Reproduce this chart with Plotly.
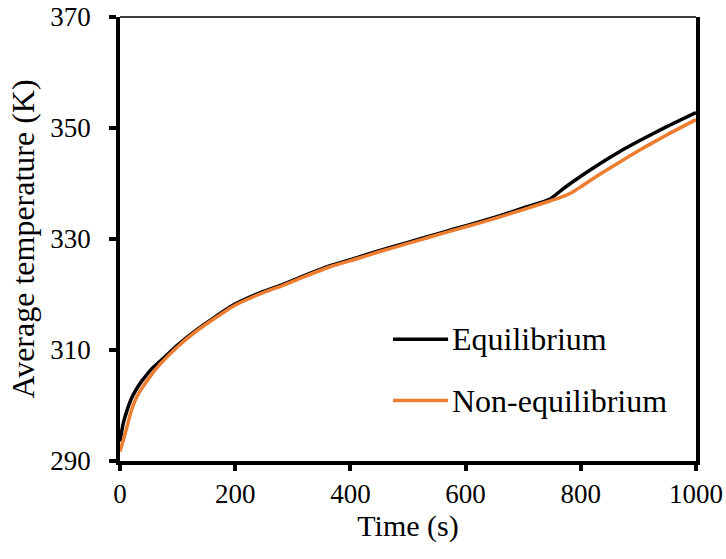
import plotly.graph_objects as go

time_eq = [0, 5, 10, 20, 30, 40, 55, 70, 100, 130, 160, 190, 210, 250, 280, 320, 365, 410,
           450, 500, 540, 580, 625, 660, 700, 745, 770, 800, 835, 865, 900, 950, 1000]
temp_eq = [293.5, 296.5, 298.4, 301.3, 303.2, 304.7, 306.6, 308.0, 310.9, 313.4, 315.6, 317.7,
           318.8, 320.6, 321.7, 323.4, 325.2, 326.6, 327.9, 329.4, 330.6, 331.8, 333.1, 334.2,
           335.6, 337.1, 339.1, 341.3, 343.7, 345.6, 347.6, 350.3, 352.8]

time_neq = [0, 5, 10, 20, 30, 40, 55, 70, 100, 130, 160, 190, 210, 250, 280, 320, 365, 410,
            450, 500, 540, 580, 625, 660, 700, 745, 765, 783, 800, 835, 865, 900, 950, 1000]
temp_neq = [291.7, 293.5, 295.3, 299.2, 301.7, 303.4, 305.6, 307.5, 310.6, 313.2, 315.4, 317.5,
            318.6, 320.4, 321.5, 323.2, 325.0, 326.4, 327.7, 329.2, 330.4, 331.6, 332.9, 334.0,
            335.3, 336.8, 337.5, 338.3, 339.4, 341.8, 343.7, 345.9, 348.8, 351.5]

x_ticks = [0, 200, 400, 600, 800, 1000]
y_ticks = [290, 310, 330, 350, 370]
series_names = ["Equilibrium", "Non-equilibrium"]
series_colors = ["#000000", "#ED7D31"]

FONT = "Liberation Serif"

fig = go.Figure()
fig.add_trace(go.Scatter(x=time_eq, y=temp_eq, mode="lines", name=series_names[0],
                         line=dict(color=series_colors[0], width=3.5, shape="spline", smoothing=0.5),
                         showlegend=False))
fig.add_trace(go.Scatter(x=time_neq, y=temp_neq, mode="lines", name=series_names[1],
                         line=dict(color=series_colors[1], width=3.5, shape="spline", smoothing=0.5),
                         showlegend=False))

# manual legend (line samples + labels)
legend_y = [0.2744, 0.136]
for name, color, ly in zip(series_names, series_colors, legend_y):
    fig.add_shape(type="line", xref="paper", yref="paper", x0=0.474, x1=0.5696, y0=ly, y1=ly,
                  line=dict(color=color, width=3.5))
    fig.add_annotation(xref="paper", yref="paper", x=0.573, y=ly, text=name, showarrow=False,
                       xanchor="left", yanchor="middle",
                       font=dict(family=FONT, size=32, color="#000000"))

# thin top border
fig.add_shape(type="line", xref="paper", yref="paper", x0=0, x1=1, y0=1, y1=1,
              line=dict(color="#000000", width=1.5))

fig.update_layout(
    width=726, height=559,
    margin=dict(l=120, r=30, t=17, b=98),
    paper_bgcolor="white", plot_bgcolor="white",
    font=dict(family=FONT, size=27, color="#000000"),
    xaxis=dict(range=[0, 1000], tickvals=x_ticks, ticks="outside", ticklen=6, tickwidth=3.5,
               tickcolor="#000000", showline=True, linewidth=3.5, linecolor="#000000",
               showgrid=False, zeroline=False, mirror=False, automargin=False,
               tickfont=dict(family=FONT, size=27),
               title=dict(text="Time (s)", font=dict(family=FONT, size=30), standoff=5)),
    yaxis=dict(range=[290, 370], tickvals=y_ticks, ticks="outside", ticklen=7, tickwidth=3.5,
               tickcolor="#000000", showline=True, linewidth=3.5, linecolor="#000000",
               showgrid=False, zeroline=False, mirror=True, automargin=False,
               ticklabelstandoff=13,
               tickfont=dict(family=FONT, size=27),
               title=dict(text="Average temperature (K)", font=dict(family=FONT, size=32), standoff=7)),
)

fig.write_html("out.html")
